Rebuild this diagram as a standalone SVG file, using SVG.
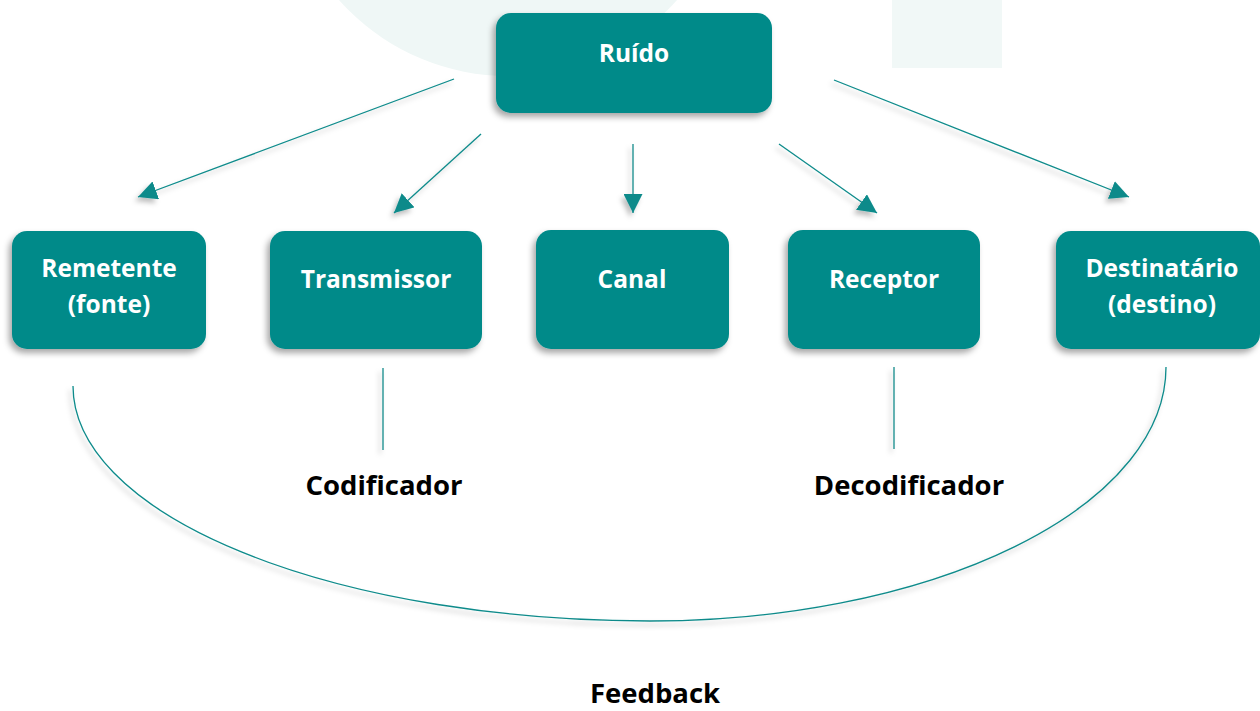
<svg xmlns="http://www.w3.org/2000/svg" width="1260" height="711" viewBox="0 0 1260 711">
  <defs>
    <filter id="boxShadow" x="-20%" y="-20%" width="140%" height="150%">
      <feDropShadow dx="-3" dy="4" stdDeviation="3" flood-color="#000" flood-opacity="0.35"/>
    </filter>
    <filter id="lineShadow" x="-20%" y="-20%" width="140%" height="140%">
      <feDropShadow dx="-3" dy="4" stdDeviation="2.5" flood-color="#000" flood-opacity="0.25"/>
    </filter>
    <marker id="arrow" markerUnits="userSpaceOnUse" markerWidth="19" markerHeight="19" viewBox="0 0 16 16" refX="16" refY="8" orient="auto">
      <path d="M0,0 L16,8 L0,16 Z" fill="#0b8a8a"/>
    </marker>
    <style>
      .box { fill: #018a89; filter: url(#boxShadow); }
      .boxText { font-family: "Open Sans", "Liberation Sans", sans-serif; font-weight: bold; font-size: 24.5px; fill: #ffffff; text-anchor: middle; }
      .label { font-family: "Open Sans", "Liberation Sans", sans-serif; font-weight: bold; font-size: 27.5px; fill: #000000; text-anchor: middle; }
      .conn { stroke: #0b8a8a; stroke-width: 1.3; fill: none; }
    </style>
  </defs>

  <rect width="1260" height="711" fill="#ffffff"/>

  <!-- pale background shapes -->
  <g id="background">
    <circle cx="508" cy="-150" r="226" fill="#eff7f6"/>
    <rect x="892" y="0" width="110" height="68" fill="#f1f8f7"/>
  </g>

  <!-- connectors -->
  <g id="connectors" filter="url(#lineShadow)">
    <line class="conn" x1="454" y1="79" x2="138" y2="197" marker-end="url(#arrow)"/>
    <line class="conn" x1="481" y1="134" x2="394" y2="213" marker-end="url(#arrow)"/>
    <line class="conn" x1="633" y1="144" x2="633" y2="213" marker-end="url(#arrow)"/>
    <line class="conn" x1="779" y1="144" x2="877" y2="213" marker-end="url(#arrow)"/>
    <line class="conn" x1="834" y1="80" x2="1129" y2="197" marker-end="url(#arrow)"/>
    <line class="conn" x1="383" y1="368" x2="383" y2="450"/>
    <line class="conn" x1="894" y1="367" x2="894" y2="449"/>
    <path class="conn" d="M73,386 A577,235 0 0 0 650,621 A516,254 0 0 0 1166,367"/>
  </g>

  <g id="ruido">
    <rect class="box" x="496" y="13" width="276" height="100" rx="15"/>
    <text class="boxText" x="634" y="62">Ruído</text>
  </g>

  <g id="remetente">
    <rect class="box" x="12" y="231" width="194" height="118" rx="15"/>
    <text class="boxText" x="109" y="277">Remetente</text>
    <text class="boxText" x="109" y="313">(fonte)</text>
  </g>

  <g id="transmissor">
    <rect class="box" x="270" y="231" width="212" height="118" rx="15"/>
    <text class="boxText" x="376" y="288">Transmissor</text>
  </g>

  <g id="canal">
    <rect class="box" x="536" y="230" width="193" height="119" rx="15"/>
    <text class="boxText" x="632" y="288">Canal</text>
  </g>

  <g id="receptor">
    <rect class="box" x="788" y="230" width="192" height="119" rx="15"/>
    <text class="boxText" x="884" y="288">Receptor</text>
  </g>

  <g id="destinatario">
    <rect class="box" x="1056" y="231" width="204" height="118" rx="15"/>
    <text class="boxText" x="1162" y="277">Destinatário</text>
    <text class="boxText" x="1162" y="313">(destino)</text>
  </g>

  <g id="codificador">
    <text class="label" x="384" y="495">Codificador</text>
  </g>
  <g id="decodificador">
    <text class="label" x="909" y="495">Decodificador</text>
  </g>
  <g id="feedback">
    <text class="label" x="655" y="703">Feedback</text>
  </g>
</svg>
